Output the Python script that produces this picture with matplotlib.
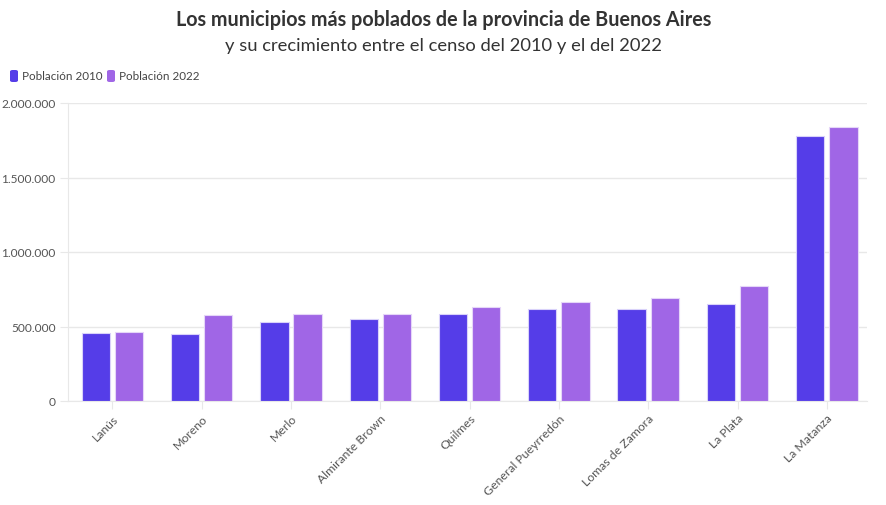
import matplotlib
matplotlib.use("Agg")
import matplotlib.pyplot as plt
import numpy as np
from matplotlib.patches import FancyBboxPatch
from matplotlib.ticker import FuncFormatter

municipios = ["Lanús", "Moreno", "Merlo", "Almirante Brown", "Quilmes",
              "General Pueyrredón", "Lomas de Zamora", "La Plata", "La Matanza"]
pob_2010 = [459263, 452505, 528494, 552902, 582943, 618989, 616279, 654324, 1775816]
pob_2022 = [462051, 574374, 582000, 585852, 632000, 664000, 690000, 770000, 1837774]
series_labels = ["Población 2010", "Población 2022"]
y_ticks = [0, 500000, 1000000, 1500000, 2000000]

c2010 = "#553DE8"
c2022 = "#A066E6"

plt.rcParams['font.family'] = ['Lato', 'DejaVu Sans']

fig = plt.figure(figsize=(8.87, 5.06), dpi=100)
ax = fig.add_axes([68/887, 1-402/506, (867-68)/887, (402-104)/506])

x = np.arange(len(municipios))
w = 0.317
off = 0.186
ax.bar(x - off, pob_2010, width=w, color=c2010, edgecolor="#D9D2FA", linewidth=0.8, zorder=3)
ax.bar(x + off, pob_2022, width=w, color=c2022, edgecolor="#E5D6F8", linewidth=0.8, zorder=3)

ax.set_xlim(-0.497, 8.45)
ax.set_ylim(0, 2000000)
ax.set_yticks(y_ticks)
ax.yaxis.set_major_formatter(FuncFormatter(lambda v, p: f"{int(v):,}".replace(",", ".")))
ax.grid(axis='y', color="#E8E8E8", linewidth=1, zorder=0)
for s in ["top", "right"]:
    ax.spines[s].set_visible(False)
ax.spines["left"].set_color("#E8E8E8")
ax.spines["bottom"].set_color("#E8E8E8")
ax.tick_params(axis='y', length=6, color="#E8E8E8", labelsize=8.6, labelcolor="#555555", pad=3)
ax.tick_params(axis='x', length=6, color="#E8E8E8", labelsize=8.8, labelcolor="#555555", pad=2)
ax.set_xticks(x)
ax.set_xticklabels(municipios, rotation=45, ha='right', rotation_mode='anchor')

fig.text(0.5, 1-20/506, "Los municipios más poblados de la provincia de Buenos Aires",
         ha='center', va='center', fontsize=14.2, fontweight='bold', color="#333333")
fig.text(0.5, 1-46/506, "y su crecimiento entre el censo del 2010 y el del 2022",
         ha='center', va='center', fontsize=13.2, color="#333333")

# legend
def leg_item(xpx, color, label):
    fig.patches.append(FancyBboxPatch((xpx/887, 1-83/506), 8/887, 12/506,
                                      boxstyle="round,pad=0,rounding_size=0.003",
                                      transform=fig.transFigure, facecolor=color,
                                      edgecolor='none'))
    fig.text((xpx+12)/887, 1-77/506, label, ha='left', va='center', fontsize=8.4, color="#444444")

leg_item(10, c2010, series_labels[0])
leg_item(107, c2022, series_labels[1])

fig.savefig("out.png", dpi=100)
